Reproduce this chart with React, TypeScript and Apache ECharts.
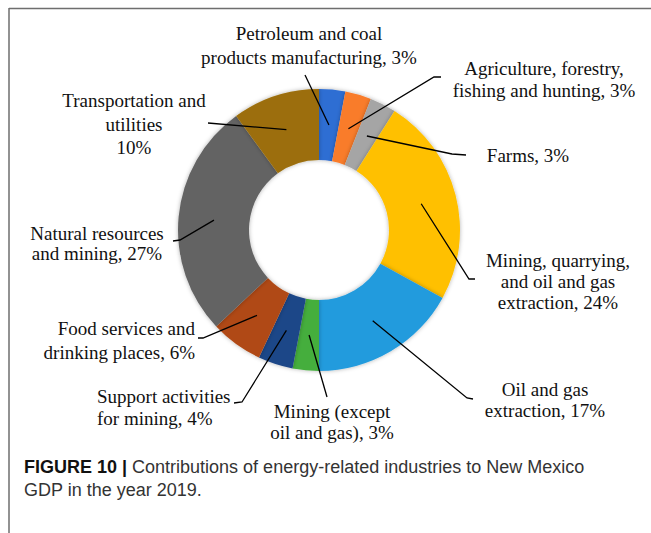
import React, { useEffect, useRef } from "react";
import * as echarts from "echarts";

const categories = [
  "Petroleum and coal products manufacturing",
  "Agriculture, forestry, fishing and hunting",
  "Farms",
  "Mining, quarrying, and oil and gas extraction",
  "Oil and gas extraction",
  "Mining (except oil and gas)",
  "Support activities for mining",
  "Food services and drinking places",
  "Natural resources and mining",
  "Transportation and utilities",
];
const values = [3, 3, 3, 24, 17, 3, 4, 6, 27, 10];
const labels = [
  "Petroleum and coal\nproducts manufacturing, 3%",
  "Agriculture, forestry,\nfishing and hunting, 3%",
  "Farms, 3%",
  "Mining, quarrying,\nand oil and gas\nextraction, 24%",
  "Oil and gas\nextraction, 17%",
  "Mining (except\noil and gas), 3%",
  "Support activities\nfor mining, 4%",
  "Food services and\ndrinking places, 6%",
  "Natural resources\nand mining, 27%",
  "Transportation and\nutilities\n10%",
];
const colors = [
  "#2F6ED3",
  "#F97B2C",
  "#A5A5A5",
  "#FFC000",
  "#249BDD",
  "#44AE3C",
  "#1F4788",
  "#B04A14",
  "#646464",
  "#9C6E0A",
];

// annotation placement (label anchor and leader-line outer points)
const CX = 319;
const CY = 230;
const R_IN = 70;
const R_OUT = 141;
const labelPlace: any[] = [
  { x: 309, y: 45, align: "center", lh: 24, pts: [[305, 75]] },
  { x: 544, y: 79, align: "center", lh: 22, pts: [[434, 77], [441, 77]] },
  { x: 528, y: 155, align: "center", lh: 22, pts: [[452, 154], [466, 155]] },
  { x: 558, y: 281, align: "center", lh: 21, pts: [[469, 279], [475, 279]] },
  { x: 545, y: 400, align: "center", lh: 21, pts: [[467, 398], [473, 399]] },
  { x: 332, y: 422, align: "center", lh: 21, pts: [[327, 397]] },
  { x: 97, y: 407, align: "left", lh: 22, pts: [[242, 402], [234, 403]] },
  { x: 195, y: 340, align: "right", lh: 24, pts: [[203, 338], [198, 338]] },
  { x: 97, y: 243, align: "center", lh: 20, pts: [[180, 240], [173, 241]] },
  { x: 134, y: 124, align: "center", lh: 23.5, pts: [[208, 123]] },
];

function midPoint(i: number) {
  const total = values.reduce((a, b) => a + b, 0);
  let cum = 0;
  for (let k = 0; k < i; k++) cum += values[k];
  const frac = (cum + values[i] / 2) / total;
  const th = frac * Math.PI * 2;
  const r = (R_IN + R_OUT) / 2;
  return [CX + r * Math.sin(th), CY - r * Math.cos(th)];
}

export default function App() {
  const ref = useRef<HTMLDivElement>(null);
  useEffect(() => {
    document.body.style.margin = "0";
    const chart = echarts.init(ref.current!, null, { renderer: "svg" });
    const leaders = labelPlace.map((lp, i) => ({
      type: "polyline",
      z: 100,
      silent: true,
      shape: { points: [midPoint(i), ...lp.pts] },
      style: { stroke: "#000000", lineWidth: 1.3, fill: "none" },
    }));
    chart.setOption({
      animation: false,
      backgroundColor: "#ffffff",
      graphic: [
        {
          type: "line",
          shape: { x1: 9, y1: 8.5, x2: 651, y2: 8.5 },
          style: { stroke: "#6e6e6e", lineWidth: 1.5 },
        },
        {
          type: "line",
          shape: { x1: 9, y1: 8, x2: 9, y2: 533 },
          style: { stroke: "#6e6e6e", lineWidth: 1.5 },
        },
        ...leaders,
        {
          type: "text",
          left: 24,
          top: 458,
          style: {
            text: "{b|FIGURE 10 |} Contributions of energy-related industries to New Mexico",
            fontFamily: "Liberation Sans, Arial, sans-serif",
            fontSize: 18,
            fill: "#333333",
            rich: {
              b: {
                fontFamily: "Liberation Sans, Arial, sans-serif",
                fontSize: 18,
                fontWeight: "bold",
                fill: "#111111",
              },
            },
          },
        },
        {
          type: "text",
          left: 24,
          top: 481,
          style: {
            text: "GDP in the year 2019.",
            fontFamily: "Liberation Sans, Arial, sans-serif",
            fontSize: 18,
            fill: "#333333",
          },
        },
      ],
      series: [
        {
          type: "pie",
          center: [CX, CY],
          radius: [R_IN, R_OUT],
          startAngle: 90,
          clockwise: true,
          avoidLabelOverlap: false,
          silent: true,
          data: values.map((v, i) => ({
            value: v,
            name: categories[i],
            itemStyle: { color: colors[i] },
            label: { lineHeight: labelPlace[i].lh },
          })),
          itemStyle: {
            borderWidth: 0,
            shadowBlur: 4,
            shadowColor: "rgba(0,0,0,0.3)",
          },
          label: {
            show: true,
            position: "outside",
            formatter: (p: any) => labels[p.dataIndex],
            fontFamily: "Liberation Serif, Times New Roman, serif",
            fontSize: 19,
            color: "#111111",
          },
          labelLine: { show: false },
          labelLayout: (params: any) => {
            const lp = labelPlace[params.dataIndex];
            return {
              x: lp.x,
              y: lp.y,
              align: lp.align,
              verticalAlign: "middle",
            };
          },
        },
      ],
    });
    return () => chart.dispose();
  }, []);
  return <div ref={ref} style={{ width: 651, height: 533 }} />;
}
